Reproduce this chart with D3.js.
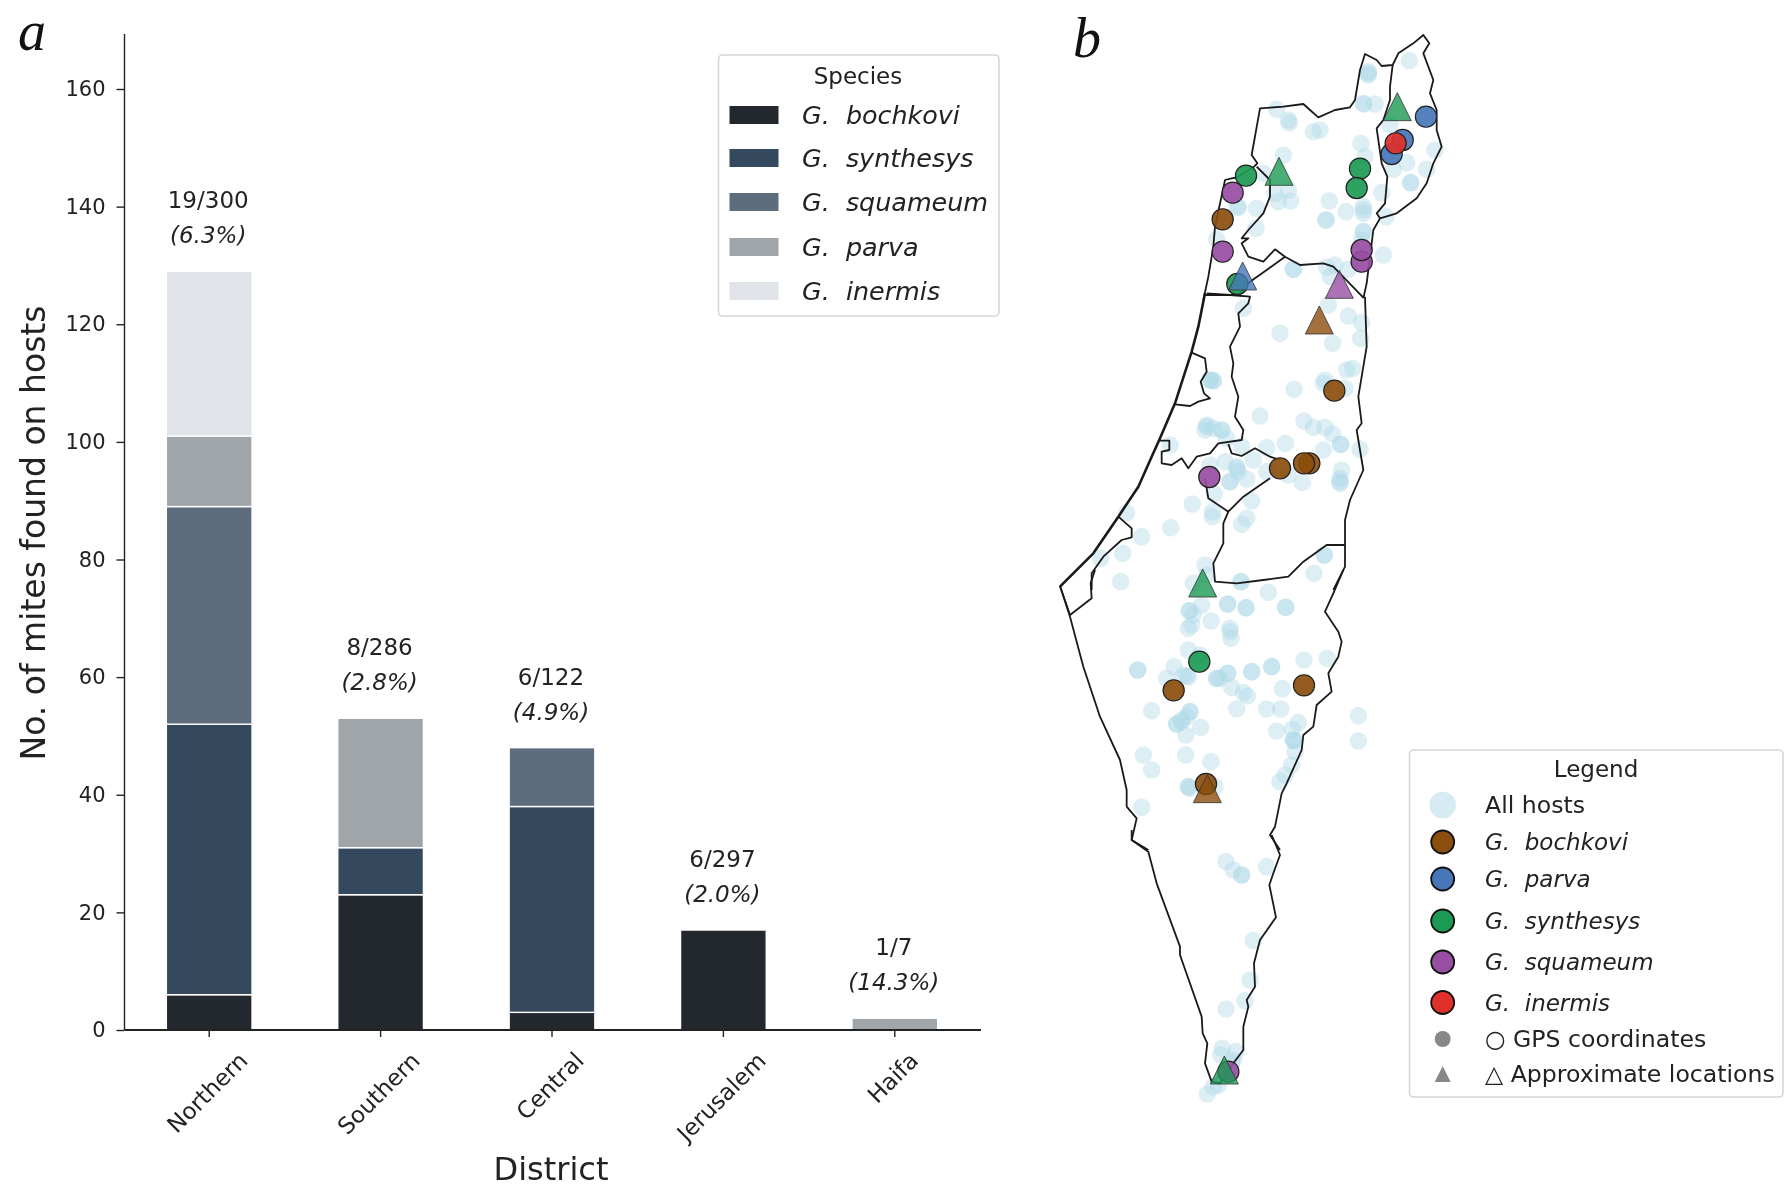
<!DOCTYPE html>
<html><head><meta charset="utf-8">
<style>html,body{margin:0;background:#fff}svg{display:block;filter:blur(.45px)}
text{font-family:"DejaVu Sans";fill:#222;white-space:pre}
</style>
<script src="https://cdn.jsdelivr.net/npm/d3@7"></script></head><body>
<svg id="c" width="1792" height="1198"></svg>
<script>
// ---- panel a data
const districts=["Northern","Southern","Central","Jerusalem","Haifa"];
const speciesStack=["G.  bochkovi","G.  synthesys","G.  squameum","G.  parva","G.  inermis"];
const bochkovi=[6,23,3,17,0];
const synthesys=[46,8,35,0,0];
const squameum=[37,0,10,0,0];
const parva=[12,22,0,0,2];
const inermis=[28,0,0,0,0];
const stackColors=["#23282f","#34495e","#5d6d7e","#a0a5a9","#e0e3e8"];
const yTicks=[0,20,40,60,80,100,120,140,160];
const prevCounts=["19/300","8/286","6/122","6/297","1/7"];
const prevPct=["(6.3%)","(2.8%)","(4.9%)","(2.0%)","(14.3%)"];
// ---- panel b data: map sheets, each value in sheet units from the sheet origin
const sheetN=[1150,30], sheetC=[1050,290], sheetS=[1050,570], sheetE=[1100,830];
const borderNorth=[[160,810],[175,740],[190,650],[195,590],[222,465],[225,450],[245,445],[262,442],[312,410],[322,400],[305,375],[330,235],[400,230],[460,222],[480,240],[505,262],[555,240],[600,232],[615,210],[630,120],[645,72],[680,90],[695,108],[728,105],[745,70],[790,40],[820,15],[838,40],[820,70],[850,150],[840,190],[860,240],[860,300],[875,350],[850,400],[830,460],[800,505],[740,550],[690,565],[670,600],[660,680],[650,760],[640,805]];
const golanWest=[[728,105],[720,170],[720,210],[700,270],[680,295],[695,400],[712,440],[705,520],[680,550],[690,565]];
const haifaEast=[[320,410],[360,450],[360,500],[340,550],[295,600],[275,625],[295,625],[275,640],[295,680],[340,695],[375,658],[405,680],[450,705],[520,700],[550,710],[640,803]];
const haifaSouth=[[165,795],[240,795],[270,792],[300,755],[350,720],[405,680]];
const coastCentral=[[465,10],[445,110],[425,185],[375,340],[330,445],[305,500],[265,590],[205,680],[130,790],[30,890]];
const centralEast=[[470,10],[540,15],[600,20],[595,40],[565,70],[570,110],[540,170],[550,220],[545,260],[565,320],[555,380],[580,420],[575,450],[505,460],[480,490],[440,500],[415,535],[395,505],[365,525],[335,520],[335,485],[358,480],[358,452],[330,452]];
const telAvivEnclave=[[425,188],[465,205],[470,245],[452,275],[462,310],[480,325],[445,335],[420,348],[375,343]];
const jerusalemNorth=[[535,462],[545,490],[575,498],[615,475],[660,500],[690,510]];
const jerusalemSouth=[[465,565],[475,625],[535,665],[580,620],[660,565]];
const southernNorth=[[535,665],[520,700],[520,760],[490,820],[495,875],[560,880],[640,870],[715,860],[760,815],[830,765],[885,765]];
const eastCentral=[[945,20],[950,170],[925,320],[935,400],[920,420],[940,540],[900,630],[885,690],[885,830],[850,900]];
const gazaA=[[205,680],[245,715],[245,742],[215,750],[160,800],[125,850],[125,900]];
const gazaB=[[135,0],[122,40],[125,85],[60,135],[30,48]];
const westBorder=[[30,48],[60,140],[100,290],[150,440],[210,570],[230,660],[230,710],[260,745],[245,810],[295,840]];
const eastSouth=[[880,0],[850,70],[825,125],[865,185],[875,215],[865,260],[835,310],[845,365],[800,405],[790,470],[760,495],[755,540],[710,640],[695,670],[675,770],[660,795],[690,840]];
const westEilat=[[95,0],[95,30],[145,65],[170,160],[240,350],[240,375],[305,560],[308,610],[322,640],[315,700],[335,755]];
const eastEilat=[[335,755],[360,760],[400,700],[430,660],[430,590],[445,530],[440,510],[465,470],[462,400],[480,330],[528,262],[508,165],[520,130],[540,75],[515,15]];
const hostsN=[[778,92],[655,125],[655,135],[655,130],[640,220],[642,222],[675,222],[380,238],[415,270],[418,278],[490,305],[510,300],[720,285],[633,340],[645,380],[400,375],[770,398],[730,418],[830,418],[855,360],[782,458],[782,458],[695,488],[538,513],[588,545],[528,570],[528,570],[640,530],[640,550],[640,540],[640,605],[640,605],[635,630],[700,675],[708,560],[320,535],[318,595],[265,532],[200,628],[375,490],[415,480],[385,515],[422,513],[340,430],[430,718],[430,718],[530,712],[555,705],[540,740],[595,718],[262,530]];
const hostsC=[[580,55],[835,45],[895,78],[935,98],[932,145],[690,130],[848,160],[908,235],[890,240],[825,270],[820,280],[732,298],[885,295],[480,270],[490,272],[480,270],[490,272],[630,378],[762,393],[790,412],[825,412],[848,432],[872,463],[872,463],[820,480],[930,478],[470,405],[465,420],[490,415],[470,410],[515,420],[515,420],[530,445],[360,465],[650,473],[706,460],[480,525],[525,515],[610,510],[575,470],[560,530],[565,545],[560,535],[540,575],[540,575],[590,567],[650,545],[715,555],[757,577],[875,540],[870,565],[870,580],[870,575],[493,612],[427,642],[605,633],[488,665],[487,680],[590,685],[575,703],[230,668],[362,713],[275,740],[218,790],[152,805],[212,875],[823,795],[823,795],[792,850],[573,875],[573,875],[465,825],[470,855],[430,880]];
const hostsS=[[655,67],[455,105],[533,102],[533,102],[588,113],[588,113],[707,112],[707,112],[418,122],[418,122],[430,135],[425,165],[415,175],[483,153],[540,175],[540,185],[543,205],[415,240],[450,255],[263,300],[263,300],[372,290],[350,325],[400,315],[415,320],[410,318],[500,325],[510,325],[500,325],[533,310],[533,310],[605,305],[605,305],[665,290],[665,290],[762,270],[832,265],[697,356],[545,352],[580,368],[592,378],[305,422],[560,417],[650,417],[692,417],[420,425],[420,425],[410,440],[395,450],[395,455],[380,462],[380,462],[452,472],[407,495],[745,458],[727,478],[680,483],[730,510],[732,512],[730,510],[735,545],[925,437],[925,513],[280,555],[407,555],[483,575],[305,600],[725,585],[705,615],[690,635],[415,650],[420,655],[415,650],[495,650],[275,712]];
const hostsE=[[378,95],[400,120],[425,135],[425,135],[500,110],[460,332],[450,450],[435,512],[378,537],[367,655],[362,675],[408,665],[400,690],[322,792],[355,765],[340,770],[395,700]];
const mapSpecies=["G.  bochkovi","G.  parva","G.  synthesys","G.  squameum","G.  inermis"];
const mapColors=["#8b4e0d","#4677b8","#1c9a54","#984ea3","#e0302a"];
const gpsN=[[828,260,1],[758,330,1],[725,372,1],[737,340,4],[630,416,2],[620,474,2],[288,437,2],[262,762,2],[248,488,3],[218,665,3],[635,695,3],[635,660,3],[218,568,0]];
const gpsC=[[853,302,0],[778,520,0],[762,520,0],[690,535,0],[478,561,3]];
const gpsS=[[448,275,2],[371,361,0],[762,346,0],[468,642,0]];
const gpsE=[[385,725,3]];
const approxN=[[742,230,2],[387,424,2],[568,763,3],[278,738,1]];
const approxC=[[808,90,0]];
const approxS=[[458,39,2],[472,656,0]];
const approxE=[[373,720,2]];
const legendB=["All hosts",...mapSpecies,"○ GPS coordinates","△ Approximate locations"];

const svg=d3.select("#c");
const y=d3.scaleLinear().domain([0,160]).range([1030,89]);
const x=d3.scaleBand().domain(districts).range([123.5,980.5]).paddingInner(.5).paddingOuter(.25);
const series=[bochkovi,synthesys,squameum,parva,inermis];
const stack=d3.stack().keys(d3.range(5)).value((d,k)=>series[k][d])(d3.range(5));
const ga=svg.append("g");
stack.forEach((layer,k)=>ga.append("g").selectAll("rect").data(layer).join("rect")
  .filter(d=>d[1]>d[0])
  .attr("x",(d,i)=>x(districts[d.data])).attr("width",x.bandwidth())
  .attr("y",d=>y(d[1])).attr("height",d=>y(d[0])-y(d[1]))
  .attr("fill",stackColors[k]).attr("stroke","#fff").attr("stroke-width",1.4));
const yA=ga.append("g").attr("transform","translate(124.5,0)").call(d3.axisLeft(y).tickValues(yTicks).tickSize(8).tickPadding(11));
yA.select(".domain").remove();
ga.append("line").attr("x1",124.5).attr("x2",124.5).attr("y1",34).attr("y2",1030).attr("stroke","#222").attr("stroke-width",1.4);
yA.selectAll("line").attr("stroke","#222").attr("stroke-width",1.4);
yA.selectAll("text").style("font-size","21px").attr("fill","#222").style("font-family","DejaVu Sans");
const xA=ga.append("g").attr("transform","translate(0,1030)").call(d3.axisBottom(x).tickSize(7).tickFormat(""));
xA.select(".domain").attr("d","M124.5,0H981").attr("stroke","#222").attr("stroke-width",2);
xA.selectAll("line").attr("stroke","#222").attr("stroke-width",1.4);
districts.forEach((d,i)=>{
  const t=ga.append("text").text(d).style("font-size","23px").attr("text-anchor","middle").attr("dominant-baseline","central");
  const w=t.node().getComputedTextLength();
  const cy=1049+(w+21)*Math.SQRT1_2/2;
  t.attr("transform",`translate(${x(d)+x.bandwidth()/2-2},${cy}) rotate(-45)`);
  const tot=d3.sum(series,s=>s[i]);
  const cx=x(d)+x.bandwidth()/2-1;
  ga.append("text").text(prevCounts[i]).attr("x",cx).attr("y",y(tot)-71).attr("text-anchor","middle").attr("dominant-baseline","central").style("font-size","23px");
  ga.append("text").text(prevPct[i]).attr("x",cx).attr("y",y(tot)-36).attr("text-anchor","middle").attr("dominant-baseline","central").style("font-size","23px").style("font-style","italic");
});
ga.append("text").text("No. of mites found on hosts").attr("transform","translate(33,533) rotate(-90)").attr("text-anchor","middle").attr("dominant-baseline","central").style("font-size","33px");
ga.append("text").text("District").attr("x",551).attr("y",1169).attr("text-anchor","middle").attr("dominant-baseline","central").style("font-size","32px");
const letter=(s,xx,yy)=>svg.append("text").text(s).attr("x",xx).attr("y",yy).style("font-family","Liberation Serif").style("font-style","italic").style("font-size","56px").style("fill","#111");
letter("a",18,50); letter("b",1073,57);
// legend a
const box=(g,xx,yy,w,h)=>g.append("rect").attr("x",xx).attr("y",yy).attr("width",w).attr("height",h).attr("rx",4).attr("fill","#fff").attr("stroke","#d6d6d6").attr("stroke-width",1.6);
const la=svg.append("g");
box(la,718.5,55,280.5,261);
la.append("text").text("Species").attr("x",858).attr("y",76).attr("text-anchor","middle").attr("dominant-baseline","central").style("font-size","23px");
const rowsA=[115,158,202,247,291];
speciesStack.forEach((s,i)=>{
  la.append("rect").attr("x",729).attr("width",50).attr("y",rowsA[i]-9.5).attr("height",19).attr("fill",stackColors[i]).attr("stroke","#fff");
  la.append("text").text(s).attr("x",802).attr("y",rowsA[i]).attr("dominant-baseline","central").style("font-size","25.4px").style("font-style","italic");
});
// map
const gb=svg.append("g");
const unit=d3.scaleLinear().domain([0,3]).range([0,1]);
const place=(sheet)=>p=>[sheet[0]+unit(p[0]),sheet[1]+unit(p[1]),p[2]];
const line=d3.line().curve(d3.curveLinear);
const borders=[[sheetN,borderNorth],[sheetN,golanWest],[sheetN,haifaEast],[sheetN,haifaSouth],[sheetC,coastCentral],[sheetC,centralEast],[sheetC,telAvivEnclave],[sheetC,jerusalemNorth],[sheetC,jerusalemSouth],[sheetC,southernNorth],[sheetC,eastCentral],[sheetC,gazaA],[sheetS,gazaB],[sheetS,westBorder],[sheetS,eastSouth],[sheetE,westEilat],[sheetE,eastEilat]];
const hostPts=[...hostsN.map(place(sheetN)),...hostsC.map(place(sheetC)),...hostsS.map(place(sheetS)),...hostsE.map(place(sheetE))];
gb.append("g").selectAll("circle").data(hostPts).join("circle").attr("cx",d=>d[0]).attr("cy",d=>d[1]).attr("r",8.8).attr("fill","#add8e6").attr("fill-opacity",.42);
borders.forEach(([s,pts],i)=>gb.append("path").attr("d",line(pts.map(p=>place(s)(p).slice(0,2)))).attr("fill","none").attr("stroke","#1a1a1a").attr("stroke-width",i==4?2.6:1.8).attr("stroke-linejoin","round"));
const gps=[...gpsN.map(place(sheetN)),...gpsC.map(place(sheetC)),...gpsS.map(place(sheetS)),...gpsE.map(place(sheetE))];
gb.append("g").selectAll("circle").data(gps).join("circle").attr("cx",d=>d[0]).attr("cy",d=>d[1]).attr("r",10.6).attr("fill",d=>mapColors[d[2]]).attr("fill-opacity",.92).attr("stroke","#222").attr("stroke-width",1.2);
const tri={draw(c,size){const s=Math.sqrt(size)/2;c.moveTo(0,-s);c.lineTo(s,s);c.lineTo(-s,s);c.closePath();}};
const approx=[...approxN.map(place(sheetN)),...approxC.map(place(sheetC)),...approxS.map(place(sheetS)),...approxE.map(place(sheetE))];
gb.append("g").selectAll("path").data(approx).join("path").attr("d",d3.symbol(tri,28*28)).attr("transform",d=>`translate(${d[0]},${d[1]})`).attr("fill",d=>mapColors[d[2]]).attr("fill-opacity",.8).attr("stroke","#333").attr("stroke-opacity",.8).attr("stroke-width",1);
// legend b
const lb=svg.append("g");
box(lb,1409.5,750,373.5,347);
lb.append("text").text("Legend").attr("x",1596).attr("y",769).attr("text-anchor","middle").attr("dominant-baseline","central").style("font-size","23px");
const rowsB=[805,842,879,921,962,1002.5,1039,1074];
legendB.forEach((s,i)=>{
  const yy=rowsB[i];
  if(i==0) lb.append("circle").attr("cx",1442.7).attr("cy",yy).attr("r",13.3).attr("fill","#add8e6").attr("fill-opacity",.5);
  else if(i<=5) lb.append("circle").attr("cx",1442.7).attr("cy",yy).attr("r",11.5).attr("fill",mapColors[i-1]).attr("stroke","#111").attr("stroke-width",1.8);
  else if(i==6) lb.append("circle").attr("cx",1442.7).attr("cy",yy).attr("r",8).attr("fill","#888");
  else lb.append("path").attr("d",d3.symbol(tri,16*16)).attr("transform",`translate(1442.7,${yy})`).attr("fill","#888");
  const italic=i>=1&&i<=5;
  lb.append("text").text(s).attr("x",1485).attr("y",yy).attr("dominant-baseline","central").style("font-size",italic?"23px":"23.6px").style("font-style",italic?"italic":"normal");
});
</script></body></html>
